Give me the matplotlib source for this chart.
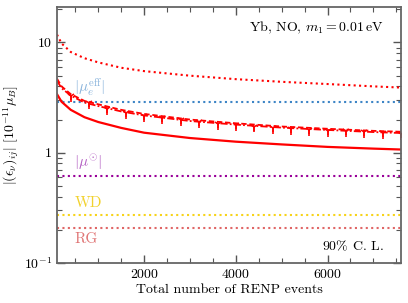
import matplotlib
matplotlib.use("Agg")
import matplotlib.pyplot as plt
import numpy as np

plt.rcParams['font.family'] = 'serif'
plt.rcParams['font.serif'] = ['cmr10']
plt.rcParams['mathtext.fontset'] = 'cm'
plt.rcParams['axes.formatter.use_mathtext'] = True

# Data
N = [100, 200, 400, 700, 1000, 1500, 2000, 3000, 4000, 5000, 6000, 7000, 7600]
dotted_top = [11.8, 9.8, 8.2, 7.2, 6.6, 5.9, 5.5, 5.0, 4.65, 4.4, 4.2, 4.0, 3.9]
dashed = [4.7, 4.0, 3.4, 2.95, 2.75, 2.45, 2.25, 2.0, 1.85, 1.73, 1.65, 1.58, 1.55]
dashdot = [4.5, 3.85, 3.3, 2.85, 2.65, 2.37, 2.18, 1.94, 1.80, 1.69, 1.61, 1.54, 1.51]
solid = [3.4, 2.9, 2.45, 2.1, 1.9, 1.68, 1.52, 1.36, 1.26, 1.19, 1.13, 1.09, 1.07]

N_mark = [400, 800, 1200, 1600, 2000, 2400, 2800, 3200, 3600, 4000, 4400, 4800,
          5200, 5600, 6000, 6400, 6800, 7200, 7600]
mark_vals = [3.3, 2.8, 2.5, 2.3, 2.15, 2.05, 1.97, 1.9, 1.83, 1.78, 1.73, 1.69,
             1.65, 1.62, 1.59, 1.56, 1.53, 1.51, 1.49]
mark_err = [0.4, 0.33, 0.29, 0.27, 0.25, 0.24, 0.23, 0.22, 0.21, 0.21, 0.2, 0.2,
            0.19, 0.19, 0.19, 0.18, 0.18, 0.18, 0.18]

bounds = {"mu_eff": 2.9, "mu_sun": 0.62, "WD": 0.275, "RG": 0.208}
bound_labels = {"mu_eff": r"$|\mu_e^{\rm eff}|$", "mu_sun": r"$|\mu^{\odot}|$",
                "WD": "WD", "RG": "RG"}
bound_label_y = {"mu_eff": 3.9, "mu_sun": 0.83, "WD": 0.35, "RG": 0.165}
line_colors = {"mu_eff": "#3d85c6", "mu_sun": "#990099", "WD": "#f7d31a", "RG": "#e06666"}
text_colors = {"mu_eff": "#8ab4dc", "mu_sun": "#b35fc2", "WD": "#f2d22e", "RG": "#e07575"}

xlim = (100, 7600)
ylim = (0.1, 21)

fig = plt.figure(figsize=(4.08, 3.03), dpi=100)
ax = fig.add_axes([0.1397, 0.132, 0.843, 0.845])
ax.set_yscale('log')

for k, v in bounds.items():
    ax.axhline(v, color=line_colors[k], ls=(0, (1, 1.6)), lw=1.5)
    ax.text(480, bound_label_y[k], bound_labels[k], color=text_colors[k],
            fontsize=11, ha='left', va='center')

ax.plot(N, dotted_top, color='red', ls=(0, (1, 1.6)), lw=1.5)
ax.plot(N, dashed, color='red', ls=(0, (3, 1.5)), lw=1.3)
ax.plot(N, dashdot, color='red', ls=(0, (4, 1.2, 1, 1.2)), lw=1.3)
ax.errorbar(N_mark, mark_vals, yerr=[mark_err, [0] * len(mark_err)], fmt='none',
            ecolor='red', elinewidth=1.2, capsize=0)
ax.plot(N_mark, mark_vals, ls='none', marker='1', ms=6, mew=1.1, color='red')
ax.plot(N, solid, color='red', ls='-', lw=1.6)

ax.set_xlim(*xlim)
ax.set_ylim(*ylim)
ax.set_xticks([2000, 4000, 6000])
ax.set_xticks(np.arange(500, 7600, 500), minor=True)
ax.set_yticks([0.1, 1, 10])
ax.set_yticklabels([r"$10^{-1}$", "1", "10"])
ax.tick_params(which='both', direction='in', top=True, right=True, labelsize=10,
               color='#555555')
ax.tick_params(which='major', length=6, width=1)
ax.tick_params(which='minor', length=3.5, width=0.8)
for s in ax.spines.values():
    s.set_color('#666666')
    s.set_linewidth(1.3)

ax.set_xlabel("Total number of RENP events", fontsize=10, labelpad=2)
ax.set_ylabel(r"$|(\epsilon_\nu)_{ij}|\ [10^{-11}\mu_B]$", fontsize=10, labelpad=2)

ax.text(0.95, 0.92, r"Yb, NO, $m_1 = 0.01\,$eV", transform=ax.transAxes,
        ha='right', va='center', fontsize=10)
ax.text(0.95, 0.065, r"90$\%$ C. L.", transform=ax.transAxes,
        ha='right', va='center', fontsize=10)

fig.savefig("out.png", dpi=100)
